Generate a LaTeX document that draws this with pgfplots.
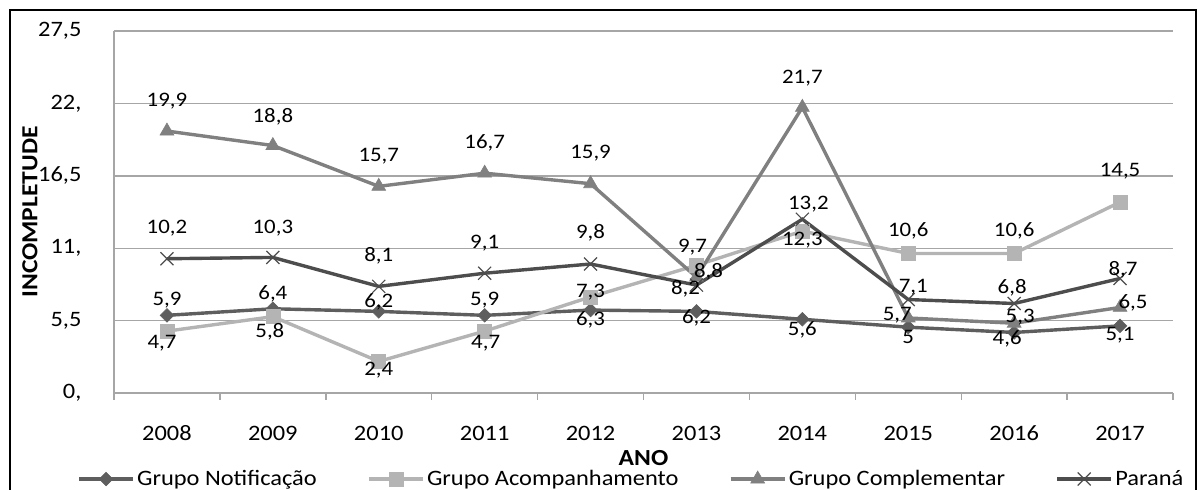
\documentclass[border=0pt]{standalone}
\usepackage{fontspec}
\setmainfont{Carlito}[FakeStretch=1.11]
\usepackage{pgfplots}
\pgfplotsset{compat=1.18}
\definecolor{cNot}{HTML}{5E5E5E}
\definecolor{cAco}{HTML}{B4B4B4}
\definecolor{cCom}{HTML}{808080}
\definecolor{cPar}{HTML}{4D4D4D}
\definecolor{cGrid}{HTML}{A6A6A6}

\pgfplotstableread{
x y lab xs ys
0 5.9 5,9 0 7.5
1 6.4 6,4 0 7.5
2 6.2 6,2 0 5
3 5.9 5,9 0 7.5
4 6.3 6,3 0 -5
5 6.2 6,2 0 -3
6 5.6 5,6 0 -5.5
7 5.0 5 0 -5
8 4.6 4,6 -3.5 -3
9 5.1 5,1 0 -4.5
}\tNot
\pgfplotstableread{
x y lab xs ys
0 4.7 4,7 -2.5 -6
1 5.8 5,8 -1.5 -7.5
2 2.4 2,4 0 -4.5
3 4.7 4,7 0.5 -6
4 7.3 7,3 0 2.5
5 9.7 9,7 -2 9
6 12.3 12,3 0 -4.5
7 10.6 10,6 0 11.5
8 10.6 10,6 0 11.5
9 14.5 14,5 0 15.5
}\tAco
\pgfplotstableread{
x y lab xs ys
0 19.9 19,9 0 15
1 18.8 18,8 0 14.5
2 15.7 15,7 0 15
3 16.7 16,7 0 15
4 15.9 15,9 0 15.5
5 8.8 8,8 6 2.5
6 21.7 21,7 0 14.5
7 5.7 5,7 -5.5 1.5
8 5.3 5,3 3 3
9 6.5 6,5 6.5 2.5
}\tCom
\pgfplotstableread{
x y lab xs ys
0 10.2 10,2 0 15.5
1 10.3 10,3 0 14.5
2 8.1 8,1 0 15.5
3 9.1 9,1 0 15
4 9.8 9,8 0 15.5
5 8.2 8,2 -5.5 -2
6 13.2 13,2 3 7.5
7 7.1 7,1 2.5 6
8 6.8 6,8 -1 8
9 8.7 8,7 1.5 4.5
}\tPar

\begin{document}
\begin{tikzpicture}
\useasboundingbox (-57pt,-48pt) rectangle (544pt,196.5pt);
\draw[black, line width=0.8pt] (-52pt,-70pt) rectangle (541pt,191.5pt);
\begin{axis}[
  at={(0pt,0pt)}, anchor=south west,
  scale only axis, width=529.5pt, height=181pt,
  clip=false,
  xmin=-0.5, xmax=9.5, ymin=0, ymax=27.5,
  axis x line=bottom, axis y line=left,
  axis line style={draw=cGrid, line width=0.7pt, -},
  xtick={0,...,9},
  xticklabels={2008,2009,2010,2011,2012,2013,2014,2015,2016,2017},
  minor xtick={-0.5,0.5,...,9.5},
  major x tick style={draw=none},
  minor x tick style={draw=cGrid, line width=0.7pt},
  minor tick length=3.5pt,
  tick align=outside,
  ytick={0,5.5,11,16.5,22,27.5},
  yticklabels={{0,},{5,5},{11,},{16,5},{22,},{27,5}},
  major y tick style={draw=none},
  ymajorgrids, grid style={draw=cGrid, line width=0.7pt},
  xticklabel style={anchor=center, yshift=-16pt, font=\fontsize{11}{13}\selectfont},
  yticklabel style={anchor=east, xshift=-8.5pt, font=\fontsize{11}{13}\selectfont},
  xlabel={\textbf{ANO}},
  xlabel style={at={(axis description cs:0.5,0)}, anchor=center, yshift=-32.5pt, font=\fontsize{11.5}{13}\selectfont},
  ylabel={\textbf{INCOMPLETUDE}},
  ylabel style={at={(axis description cs:0,0.5)}, anchor=center, yshift=42pt, font=\fontsize{11.5}{13}\selectfont},
  point meta=explicit symbolic,
  nodes near coords,
  visualization depends on={\thisrow{xs}\as\xs},
  visualization depends on={\thisrow{ys}\as\ys},
  nodes near coords style={anchor=center, xshift=\xs pt, yshift=\ys pt, font=\fontsize{10.3}{12}\selectfont, text=black, inner sep=0pt},
  legend columns=4,
  legend style={at={(axis description cs:-0.035,-0.2376)}, anchor=west, draw=none, fill=none,
    font=\fontsize{11}{13}\selectfont, inner sep=0pt, nodes={inner sep=1.2pt},
    /tikz/every even column/.append style={column sep=24pt}},
  legend cell align=left,
  legend image code/.code={\draw[mark repeat=2,mark phase=2,#1] plot coordinates {(0pt,0pt) (13.5pt,0pt) (27pt,0pt)};},
]
\addplot[cNot, line width=1.7pt, mark=square*, mark size=2.4pt, mark options={rotate=45, solid, fill=cNot, draw=cNot, line width=0.3pt}]
  table[x=x, y=y, meta=lab] {\tNot};
\addlegendentry{Grupo Notificação}
\addplot[cAco, line width=1.7pt, mark=square*, mark size=3.5pt, mark options={solid, fill=cAco, draw=cAco, line width=0.3pt}]
  table[x=x, y=y, meta=lab] {\tAco};
\addlegendentry{Grupo Acompanhamento}
\addplot[cCom, line width=1.7pt, mark=triangle*, mark size=4pt, mark options={solid, fill=cCom, draw=cCom, line width=0.3pt}]
  table[x=x, y=y, meta=lab] {\tCom};
\addlegendentry{Grupo Complementar}
\addplot[cPar, line width=1.7pt, mark=x, mark size=4.6pt, mark options={solid, draw=cPar, line width=0.6pt}]
  table[x=x, y=y, meta=lab] {\tPar};
\addlegendentry{Paraná}
\end{axis}
\end{tikzpicture}
\end{document}
